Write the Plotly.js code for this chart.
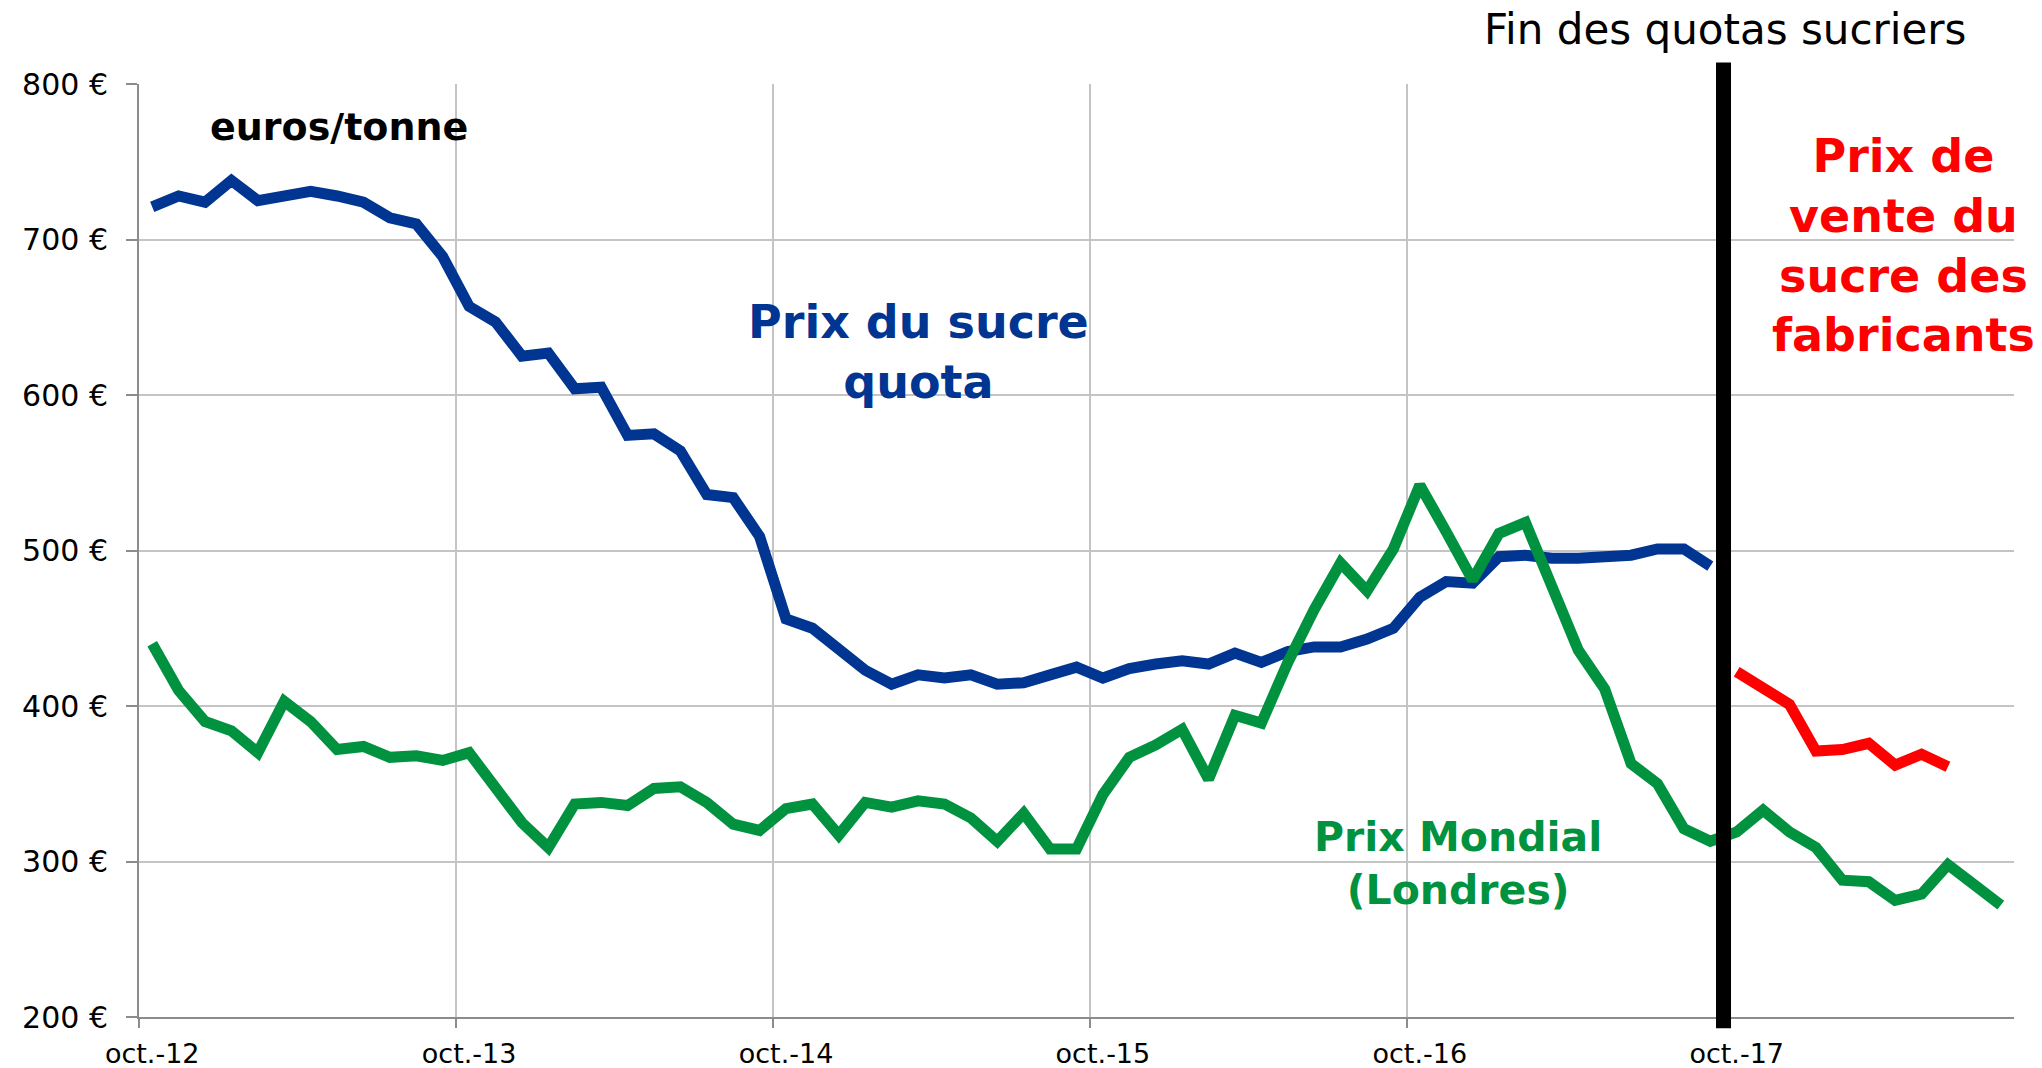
<!DOCTYPE html>
<html><head><meta charset="utf-8">
<script src="https://cdn.plot.ly/plotly-3.0.1.min.js"></script>
<style>html,body{margin:0;padding:0;background:#fff;}#chart{width:2042px;height:1068px;}</style>
</head><body><div id="chart"></div>
<script>
// Month categories (oct.-12 .. août-18)
const monthNames = ["oct.","nov.","déc.","janv.","févr.","mars","avr.","mai","juin","juil.","août","sept."];
const firstYear = 12;
const monthCount = 71;
const months = [];
for (let i = 0; i < monthCount; i++) {
  months.push(monthNames[i % 12] + "-" + (firstYear + Math.floor((i + 9) / 12)));
}

// Prix du sucre quota (€/t), oct.-12 .. sept.-17
const quotaPrice = [721,728,724,738,725,728,731,728,724,714,
                    710,689,657,647,625,627,604,605,574,575,
                    564,536,534,509,456,450,437,423,414,420,
                    418,420,414,415,420,425,418,424,427,429,
                    427,434,428,435,438,438,443,450,470,480,
                    479,496,497,495,495,496,497,501,501,490];

// Prix Mondial (Londres) (€/t), oct.-12 .. août-18
const worldPrice = [440,410,390,384,370,403,390,372,374,367,
                    368,365,370,346,325,309,337,338,336,347,
                    348,338,324,320,334,337,317,338,335,339,
                    337,328,313,331,308,308,343,367,375,385,
                    353,394,389,428,462,492,474,501,542,512,
                    481,511,518,477,436,411,363,350,321,313,
                    319,333,319,309,288,287,275,279,298,285,
                    272];

// Prix de vente du sucre des fabricants (€/t), from oct.-17
const makerStart = "oct.-17";
const makerPrice = [422,412,401,371,372,376,362,369,361];

// Event marker
const quotaEndMonth = "oct.-17";
const quotaEndLabel = "Fin des quotas sucriers";

const blue = "#003591", green = "#00923F", red = "#FF0000";
const font = "DejaVu Sans";
const lw = 11;

const makerIdx = months.indexOf(makerStart);
const traces = [
  {x: months.slice(0, quotaPrice.length), y: quotaPrice, type: "scatter", mode: "lines",
   line: {color: blue, width: lw}, hoverinfo: "skip"},
  {x: months.slice(0, worldPrice.length), y: worldPrice, type: "scatter", mode: "lines",
   line: {color: green, width: lw}, hoverinfo: "skip"},
  {x: months.slice(makerIdx, makerIdx + makerPrice.length), y: makerPrice, type: "scatter", mode: "lines",
   line: {color: red, width: lw}, hoverinfo: "skip"}
];

const layout = {
  width: 2042, height: 1068,
  margin: {l: 139, r: 28, t: 84, b: 51},
  paper_bgcolor: "#fff", plot_bgcolor: "#fff",
  showlegend: false,
  font: {family: font, color: "#000"},
  xaxis: {
    type: "category", categoryorder: "array", categoryarray: months,
    range: [-0.5, monthCount - 0.5],
    tickmode: "linear", tick0: 0, dtick: 12, tickson: "boundaries", tickangle: 0,
    showgrid: true, gridcolor: "#C4C4C4", gridwidth: 2,
    ticks: "outside", ticklen: 9, tickwidth: 2, tickcolor: "#8C8C8C",
    showline: true, linecolor: "#8C8C8C", linewidth: 2,
    tickfont: {family: font, size: 27, color: "#000"},
    ticklabelstandoff: 12,
    zeroline: false, fixedrange: true, automargin: false
  },
  yaxis: {
    range: [200, 800], tickmode: "linear", tick0: 200, dtick: 100, ticksuffix: " €",
    showgrid: true, gridcolor: "#C4C4C4", gridwidth: 2,
    ticks: "outside", ticklen: 11, tickwidth: 2, tickcolor: "#8C8C8C",
    showline: true, linecolor: "#8C8C8C", linewidth: 2,
    tickfont: {family: font, size: 30, color: "#000"},
    ticklabelstandoff: 12,
    zeroline: false, fixedrange: true, automargin: false
  },
  shapes: [
    {type: "line", xref: "x", yref: "paper",
     x0: months.indexOf(quotaEndMonth) - 0.5, x1: months.indexOf(quotaEndMonth) - 0.5,
     y0: -0.012, y1: 1.023, line: {color: "#000", width: 15}, layer: "above"}
  ],
  annotations: [
    {text: quotaEndLabel, xref: "paper", yref: "paper", x: 0.8456, y: 1.058,
     xanchor: "center", yanchor: "middle",
     showarrow: false, font: {family: font, size: 42, color: "#000"}},
    {text: "<b>euros/tonne</b>", xref: "paper", yref: "paper", x: 0.1067, y: 0.954,
     xanchor: "center", yanchor: "middle",
     showarrow: false, font: {family: font, size: 38, color: "#000"}},
    {text: "<b>Prix du sucre<br>quota</b>", xref: "paper", yref: "paper", x: 0.4155, y: 0.7128,
     xanchor: "center", yanchor: "middle",
     showarrow: false, font: {family: font, size: 46, color: blue}},
    {text: "<b>Prix Mondial<br>(Londres)</b>", xref: "paper", yref: "paper", x: 0.7035, y: 0.165,
     xanchor: "center", yanchor: "middle",
     showarrow: false, font: {family: font, size: 41, color: green}},
    {text: "<b>Prix de<br>vente du<br>sucre des<br>fabricants</b>", xref: "paper", yref: "paper", x: 0.9408, y: 0.8274,
     xanchor: "center", yanchor: "middle",
     showarrow: false, font: {family: font, size: 46, color: red}}
  ]
};

Plotly.newPlot("chart", traces, layout, {displayModeBar: false, staticPlot: true});
</script>
</body></html>
